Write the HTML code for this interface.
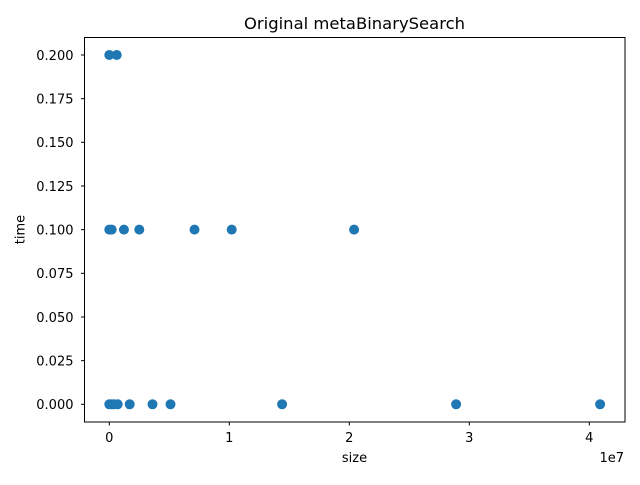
<!DOCTYPE html>
<html><head><meta charset="utf-8"><style>
body{margin:0;background:#fff;}
svg text{font-family:"DejaVu Sans","Liberation Sans",sans-serif;fill:#000;}
</style></head><body>
<svg id="chart" width="640" height="480" viewBox="0 0 640 480" xmlns="http://www.w3.org/2000/svg">
<text x="354.5" y="29" font-size="16" text-anchor="middle" textLength="221" lengthAdjust="spacingAndGlyphs">Original metaBinarySearch</text>
<g id="ticks"></g>
<g id="points"></g>
<rect x="84.5" y="37.5" width="540.5" height="384.5" fill="none" stroke="#000" stroke-width="1"/>
<text x="354.5" y="462" font-size="13" text-anchor="middle">size</text>
<text transform="translate(24.5,229.5) rotate(-90)" font-size="13" text-anchor="middle">time</text>
<text x="624" y="462" font-size="13" text-anchor="end">1e7</text>
</svg>
<script>
const sizes = [0.00, 0.062, 0.00, 0.02, 0.122, 0.25, 0.71, 1.02, 2.04, 0.00, 0.02, 0.04, 0.07, 0.17, 0.36, 0.51, 1.44, 2.89, 4.09];
const times = [0.2, 0.2, 0.1, 0.1, 0.1, 0.1, 0.1, 0.1, 0.1, 0, 0, 0, 0, 0, 0, 0, 0, 0, 0];
const xTicks = [0, 1, 2, 3, 4];
const yTicks = [0, 0.025, 0.05, 0.075, 0.1, 0.125, 0.15, 0.175, 0.2];
const NS = "http://www.w3.org/2000/svg";
function xs(v){return 109.3 + v*120;}
function ys(v){return 404.3 - v*1746.5;}
const tg=document.getElementById('ticks'), pg=document.getElementById('points');
xTicks.forEach(t=>{
  const l=document.createElementNS(NS,'line');
  
  
  l.setAttribute('x1',xs(t));l.setAttribute('x2',xs(t));l.setAttribute('y1',422);l.setAttribute('y2',425.5);l.setAttribute('stroke','#000');
  tg.appendChild(l);
  const tx=document.createElementNS(NS,'text');
  
  
  tx.setAttribute('x',xs(t));tx.setAttribute('y',442);tx.setAttribute('font-size','13');tx.setAttribute('text-anchor','middle');
  tx.textContent=t;tg.appendChild(tx);
});
yTicks.forEach(t=>{
  const l=document.createElementNS(NS,'line');
  
  
  l.setAttribute('x1',81);l.setAttribute('x2',84.5);l.setAttribute('y1',ys(t));l.setAttribute('y2',ys(t));l.setAttribute('stroke','#000');
  tg.appendChild(l);
  const tx=document.createElementNS(NS,'text');
  
  
  tx.setAttribute('x',73.5);tx.setAttribute('y',ys(t)+4.8);tx.setAttribute('font-size','13');tx.setAttribute('text-anchor','end');
  tx.textContent=t.toFixed(3);tg.appendChild(tx);
});
sizes.forEach((s,i)=>{
  const c=document.createElementNS(NS,'circle');
  
  
  c.setAttribute('cx',xs(s));c.setAttribute('cy',ys(times[i]));c.setAttribute('r',5);c.setAttribute('fill','#1f77b4');
  pg.appendChild(c);
});
</script>
</body></html>
